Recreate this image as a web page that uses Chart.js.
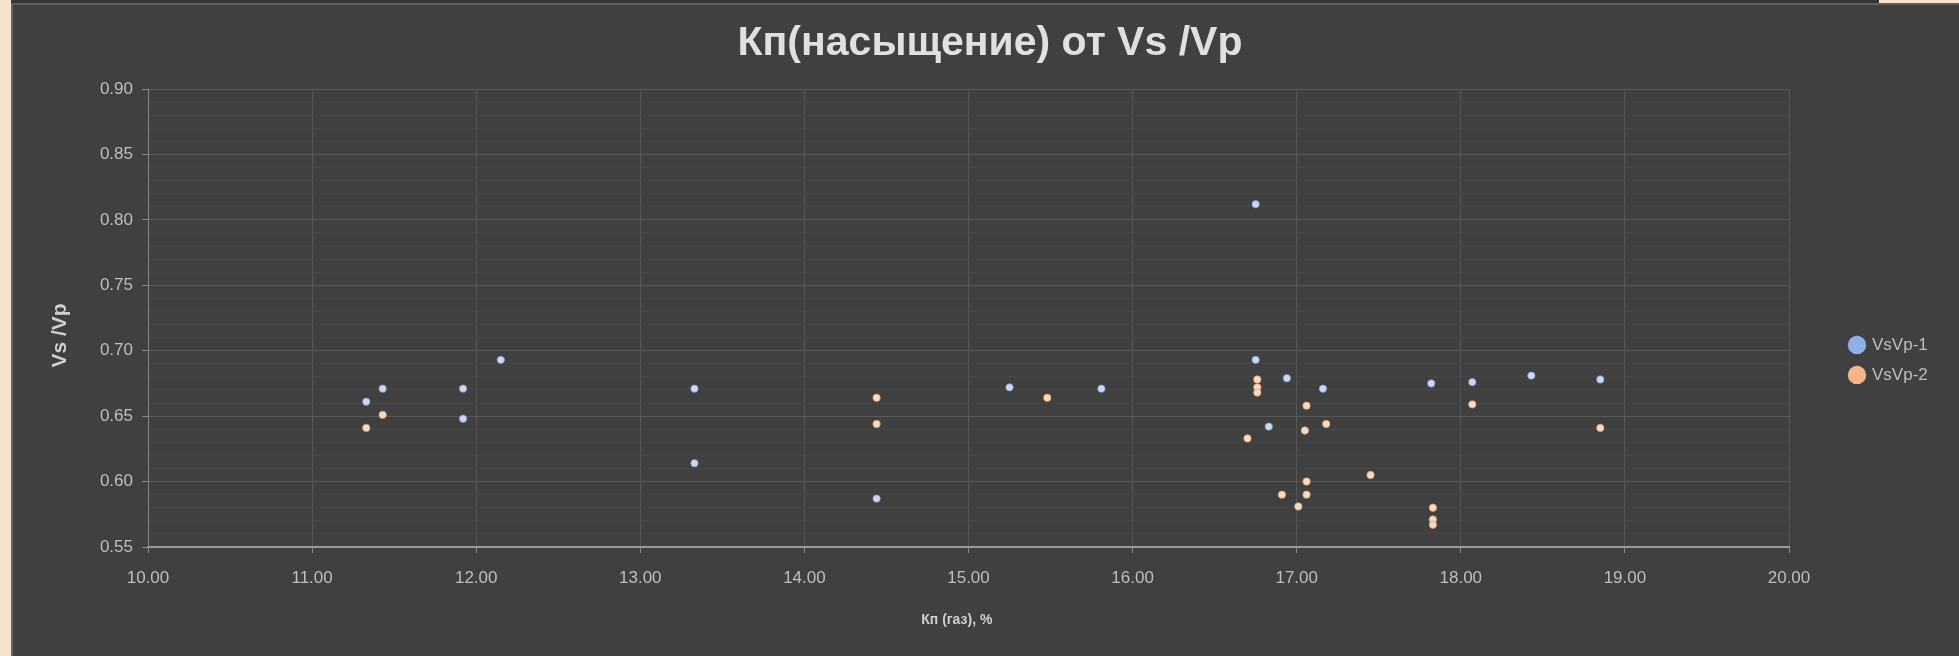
<!DOCTYPE html>
<html>
<head>
<meta charset="utf-8">
<script src="https://cdn.jsdelivr.net/npm/chart.js@4"></script>
<style>
  html, body { margin: 0; padding: 0; background: #404040; overflow: hidden; }
  #wrap { position: absolute; left: 0; top: 0; width: 1959px; height: 656px; }
  .strip { position: absolute; z-index: 2; }
</style>
</head>
<body>
<div id="wrap"><canvas id="grafico"></canvas></div>
<div class="strip" style="left:0;top:0;width:11px;height:656px;background:#f3e3cf"></div>
<div class="strip" style="left:11px;top:0;width:1868px;height:3px;background:#363636"></div>
<div class="strip" style="left:1879px;top:0;width:80px;height:3px;background:#f3e3cf"></div>
<div class="strip" style="left:11px;top:3px;width:1948px;height:2px;background:#5e5e5e"></div>
<div class="strip" style="left:11px;top:3px;width:2px;height:653px;background:#666666"></div>
<script>
// Кп(газ), % и Vs/Vp по двум сериям
const kp1 = [11.33, 11.43, 11.92, 11.92, 12.15, 13.33, 13.33, 14.44, 15.25, 15.81, 16.75, 16.75, 16.83, 16.94, 17.16, 17.82, 18.07, 18.43, 18.85]
const vsvp1 = [0.661, 0.671, 0.671, 0.648, 0.693, 0.671, 0.614, 0.587, 0.672, 0.671, 0.812, 0.693, 0.642, 0.679, 0.671, 0.675, 0.676, 0.681, 0.678]

const kp2 = [11.33, 11.43, 14.44, 14.44, 15.48, 16.70, 16.76, 16.76, 16.76, 16.91, 17.01, 17.05, 17.06, 17.06, 17.06, 17.18, 17.45, 17.83, 17.83, 17.83, 18.07, 18.85]
const vsvp2 = [0.641, 0.651, 0.664, 0.644, 0.664, 0.633, 0.678, 0.672, 0.668, 0.590, 0.581, 0.639, 0.658, 0.600, 0.590, 0.644, 0.605, 0.580, 0.571, 0.567, 0.659, 0.641]

const series = ['VsVp-1', 'VsVp-2']
const legendColors = ['#8fb0e6', '#f5b48a']

const fuente = "'Liberation Sans', Arial, sans-serif"

const puntos = (xs, ys) => xs.map((x, i) => ({x: x, y: ys[i]}))

// la leyenda ocupa un ancho fijo a la derecha
const anchoLeyenda = {
    id: 'anchoLeyenda',
    afterInit(chart) {
        const lg = chart.legend
        if (!lg) return
        const fit = lg.fit.bind(lg)
        lg.fit = function () { fit(); this.width = 121.5 }
    }
}

new Chart(document.getElementById('grafico'), {
    type: 'scatter',
    data: {
        datasets: [
            {
                label: series[0],
                data: puntos(kp1, vsvp1),
                backgroundColor: '#cdd8f0',
                borderColor: 'rgba(120,150,210,0.7)',
                borderWidth: 1,
                pointRadius: 3.7,
                pointHoverRadius: 3.7
            },
            {
                label: series[1],
                data: puntos(kp2, vsvp2),
                backgroundColor: '#f4dcc6',
                borderColor: 'rgba(230,150,100,0.7)',
                borderWidth: 1,
                pointRadius: 3.7,
                pointHoverRadius: 3.7
            }
        ]
    },
    plugins: [anchoLeyenda],
    options: {
        responsive: true,
        maintainAspectRatio: false,
        animation: false,
        layout: { padding: { left: 21, right: 0, top: 0, bottom: 0 } },
        plugins: {
            tooltip: { enabled: false },
            title: {
                display: true,
                text: 'Кп(насыщение) от Vs /Vp',
                color: '#e0e0e0',
                font: { family: fuente, size: 41, weight: 'bold' },
                padding: { top: 19, bottom: 20.8 }
            },
            legend: {
                position: 'right',
                align: 'start',
                title: {
                    display: true,
                    text: ' ',
                    font: { family: fuente, size: 12 },
                    padding: { top: 309, bottom: 0 }
                },
                labels: {
                    usePointStyle: true,
                    boxWidth: 13,
                    boxHeight: 13,
                    padding: 13,
                    color: '#bfbfbf',
                    font: { family: fuente, size: 17 },
                    generateLabels: chart => chart.data.datasets.map((ds, i) => ({
                        text: ds.label,
                        fillStyle: legendColors[i],
                        strokeStyle: legendColors[i],
                        lineWidth: 0,
                        pointStyle: 'circle',
                        fontColor: '#bfbfbf',
                        hidden: false,
                        datasetIndex: i
                    }))
                }
            }
        },
        scales: {
            x: {
                type: 'linear',
                min: 10,
                max: 20,
                afterFit: s => { s.height = 109 },
                ticks: {
                    stepSize: 1,
                    color: '#bfbfbf',
                    padding: 15,
                    font: { family: fuente, size: 17 },
                    callback: v => v.toFixed(2)
                },
                grid: { color: '#575757', tickLength: 6, tickColor: '#8a8a8a' },
                border: { color: '#9a9a9a', width: 2 },
                title: {
                    display: true,
                    text: 'Кп (газ), %\u00a0\u00a0\u00a0\u00a0\u00a0\u00a0',
                    color: '#d0d0d0',
                    font: { family: fuente, size: 14, weight: 'bold' },
                    padding: { top: 0, bottom: 27.6 }
                }
            },
            y: {
                min: 0.55,
                max: 0.90,
                afterFit: s => { s.width = 127 },
                ticks: {
                    stepSize: 0.01,
                    autoSkip: false,
                    color: '#bfbfbf',
                    padding: 9,
                    font: { family: fuente, size: 17 },
                    callback: v => Math.round(v * 100) % 5 === 0 ? v.toFixed(2) : ''
                },
                grid: {
                    tickLength: 6,
                    color: c => Math.round(c.tick.value * 100) % 5 === 0 ? '#585858' : '#464646',
                    tickColor: c => Math.round(c.tick.value * 100) % 5 === 0 ? '#8a8a8a' : 'rgba(0,0,0,0)'
                },
                border: { color: '#858585', width: 1 },
                title: {
                    display: true,
                    text: 'Vs /Vp\u00a0\u00a0\u00a0\u00a0\u00a0\u00a0',
                    color: '#d0d0d0',
                    font: { family: fuente, size: 21, weight: 'bold' },
                    padding: { top: 27, bottom: 0 }
                }
            },
            margen: {
                type: 'linear',
                position: 'right',
                display: true,
                afterFit: s => { s.width = 48.5 },
                ticks: { display: false },
                grid: { display: false },
                border: { display: false }
            }
        }
    }
})
</script>
</body>
</html>
